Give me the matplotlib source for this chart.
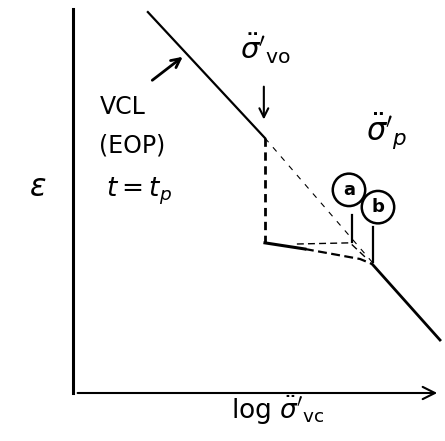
import matplotlib
matplotlib.use("Agg")
import matplotlib.pyplot as plt

# schematic e - log(sigma'vc) curve, values in arbitrary units (0..10 each way)
vcl_x = [2.04, 5.23]
vcl_y = [9.92, 6.64]
vcl_ext_x = [5.23, 8.15]
vcl_ext_y = [6.64, 3.41]
unload_x = [5.23, 5.23]
unload_y = [6.64, 3.91]
recomp_x = [5.23, 6.32]
recomp_y = [3.91, 3.75]
recomp_dash_x = [6.32, 7.82, 8.15]
recomp_dash_y = [3.75, 3.49, 3.36]
curve_a_x = [6.10, 7.55, 7.96]
curve_a_y = [3.88, 3.91, 3.54]
ncl_x = [8.15, 10.0]
ncl_y = [3.36, 1.38]

tick_a_x = [7.60, 7.60]
tick_a_y = [4.64, 3.93]
tick_b_x = [8.17, 8.17]
tick_b_y = [4.32, 3.41]

plt.rcParams['mathtext.fontset'] = 'dejavusans'

fig = plt.figure(figsize=(4.45, 4.41), dpi=100)
ax = fig.add_axes([73/445, 1 - 393/441, (440 - 73)/445, (393 - 9)/441])
ax.set_xlim(0, 10)
ax.set_ylim(0, 10)
ax.axis('off')

# axes
ax.plot([0, 0], [0, 10], color='black', lw=2.2, clip_on=False)
ax.annotate('', xy=(10.0, 0.0), xytext=(0.05, 0.0),
            arrowprops=dict(arrowstyle='->', lw=1.5, color='black', mutation_scale=22))

# curves
ax.plot(vcl_x, vcl_y, color='black', lw=1.6, clip_on=False)
ax.plot(vcl_ext_x, vcl_ext_y, color='black', lw=0.8, ls=(0, (5, 6)))
ax.plot(unload_x, unload_y, color='black', lw=2.0, ls=(0, (3, 2)))
ax.plot(recomp_x, recomp_y, color='black', lw=2.2)
ax.plot(recomp_dash_x, recomp_dash_y, color='black', lw=1.6, ls=(0, (4, 2)))
ax.plot(curve_a_x, curve_a_y, color='black', lw=1.0, ls=(0, (5, 3)))
ax.plot(ncl_x, ncl_y, color='black', lw=2.0, clip_on=False)
ax.plot(tick_a_x, tick_a_y, color='black', lw=1.6)
ax.plot(tick_b_x, tick_b_y, color='black', lw=1.6)

# circled labels
ax.text(7.52, 5.29, 'a', fontsize=13, ha='center', va='center', fontweight='bold',
        bbox=dict(boxstyle='circle,pad=0.4', fc='white', ec='black', lw=1.8))
ax.text(8.31, 4.84, 'b', fontsize=13, ha='center', va='center', fontweight='bold',
        bbox=dict(boxstyle='circle,pad=0.4', fc='white', ec='black', lw=1.8))

# annotations
ax.text(1.35, 7.45, 'VCL', fontsize=17, ha='center', va='center')
ax.text(1.62, 6.44, '(EOP)', fontsize=17, ha='center', va='center')
ax.text(1.80, 5.25, r'$t=t_p$', fontsize=19, ha='center', va='center')
ax.annotate('', xy=(3.05, 8.80), xytext=(2.10, 8.10),
            arrowprops=dict(arrowstyle='->', lw=2.0, color='black', mutation_scale=16))

ax.text(5.25, 8.95, r"$\ddot{\sigma}'_{\mathrm{vo}}$", fontsize=21, ha='center', va='center')
ax.annotate('', xy=(5.20, 7.05), xytext=(5.20, 8.05),
            arrowprops=dict(arrowstyle='->', lw=1.5, color='black', mutation_scale=16))

ax.text(8.55, 6.80, r"$\ddot{\sigma}'_{p}$", fontsize=22, ha='center', va='center')
ax.text(-0.95, 5.35, r'$\varepsilon$', fontsize=22, ha='center', va='center')
ax.text(5.59, -0.45, r"$\mathrm{log}\ \ddot{\sigma}'_{\mathrm{vc}}$", fontsize=19,
        ha='center', va='center')

fig.savefig('out.png', dpi=100, facecolor='white')
